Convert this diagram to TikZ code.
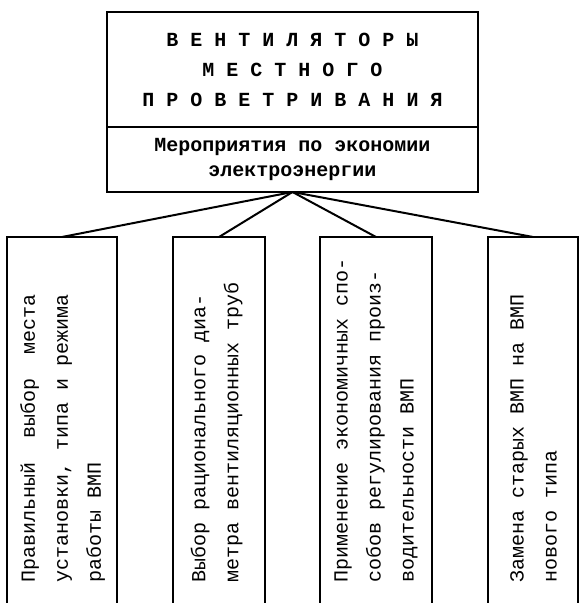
\documentclass[tikz,border=0pt]{standalone}
\usepackage{fontspec}
\setmonofont{Liberation Mono}
\usetikzlibrary{positioning}

\tikzset{
	box/.style={draw, line width=1pt, outer sep=0pt, inner sep=0pt},
	branch/.style={box, minimum height=193pt},
	label/.style={rotate=90, anchor=west, align=left, inner sep=0pt,
		font=\ttfamily\fontsize{10}{16.5}\selectfont},
	link/.style={line width=1pt}
}

\begin{document}
\begin{tikzpicture}[x=0.5pt, y=-0.5pt]
				\useasboundingbox (0,0) rectangle (578,603);
				
				% top block
				\node[box, minimum width=185.5pt, minimum height=57.5pt, align=center,
					font=\ttfamily\bfseries\fontsize{10}{15}\selectfont] (fans) at (292.5,69.5)
					{В Е Н Т И Л Я Т О Р Ы\\М Е С Т Н О Г О\\П Р О В Е Т Р И В А Н И Я};
				\node[box, minimum width=185.5pt, minimum height=32.5pt, align=center,
					font=\ttfamily\bfseries\fontsize{10}{12.5}\selectfont, below=0pt of fans] (econ)
					{Мероприятия по экономии\\электроэнергии};
				
				% four branches
				\node[branch, minimum width=55pt] (place) at (62,430) {};
				\node[branch, minimum width=46pt] (pipe) at (219,430) {};
				\node[branch, minimum width=56pt] (ctrl) at (376,430) {};
				\node[branch, minimum width=45pt] (repl) at (533,430) {};
				
				\draw[link] (econ.south) -- (place.north);
				\draw[link] (econ.south) -- (pipe.north);
				\draw[link] (econ.south) -- (ctrl.north);
				\draw[link] (econ.south) -- (repl.north);
				
				% texts, read from bottom to top
				\node[label] (placetext) at (62.5,583)
					{Правильный\ \ выбор\ \ места\\установки, типа и режима\\работы ВМП};
				\node[label] (pipetext) at (216.5,583)
					{Выбор рационального диа-\\метра вентиляционных труб};
				\node[label] (ctrltext) at (376,583)
					{Применение экономичных спо-\\собов регулирования произ-\\водительности ВМП};
				\node[label] (repltext) at (533.5,583)
					{Замена старых ВМП на ВМП\\нового типа};
			\end{tikzpicture}
\end{document}
